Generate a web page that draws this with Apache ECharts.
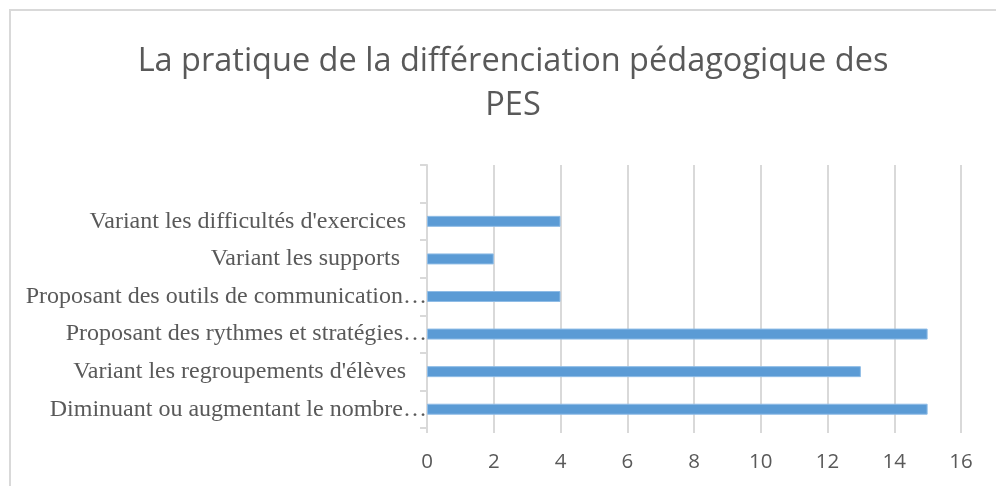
<!DOCTYPE html>
<html>
<head>
<meta charset="utf-8">
<script src="https://cdn.jsdelivr.net/npm/echarts@6/dist/echarts.min.js"></script>
<style>html,body{margin:0;padding:0;background:#fff;}#c{width:996px;height:486px;}</style>
</head>
<body>
<div id="c"></div>
<script>
var titleText = 'La pratique de la différenciation pédagogique des\nPES';
var categories = [
  '',
  "Variant les difficultés d'exercices",
  'Variant les supports ',
  'Proposant des outils de communication…',
  'Proposant des rythmes et stratégies…',
  "Variant les regroupements d'élèves",
  'Diminuant ou augmentant le nombre…'
];
var values = [null, 4, 2, 4, 15, 13, 15];
var xTicks = { min: 0, max: 16, interval: 2 };

var chart = echarts.init(document.getElementById('c'), null, { renderer: 'canvas' });
chart.setOption({
  backgroundColor: '#ffffff',
  animation: false,
  graphic: [{
    type: 'rect',
    shape: { x: 10, y: 10, width: 1000, height: 500 },
    style: { fill: 'none', stroke: '#d9d9d9', lineWidth: 2 },
    silent: true
  }],
  title: {
    text: titleText,
    left: 508,
    top: 35,
    textAlign: 'center',
    textStyle: {
      fontFamily: 'Open Sans',
      fontWeight: 'normal',
      fontSize: 32.5,
      lineHeight: 44,
      color: '#595959'
    }
  },
  grid: { left: 427, right: 35, top: 165, bottom: 58, containLabel: false },
  xAxis: {
    type: 'value',
    min: xTicks.min,
    max: xTicks.max,
    interval: xTicks.interval,
    axisLine: { show: false },
    axisTick: { show: true, length: 5, lineStyle: { color: '#d9d9d9', width: 2 } },
    splitLine: { show: true, lineStyle: { color: '#d9d9d9', width: 2 } },
    axisLabel: {
      color: '#595959',
      fontFamily: 'Open Sans',
      fontSize: 20.5,
      margin: 24
    }
  },
  yAxis: {
    type: 'category',
    data: categories,
    inverse: true,
    axisLine: { show: true, lineStyle: { color: '#d9d9d9', width: 2 } },
    axisTick: { show: true, length: 7, lineStyle: { color: '#d9d9d9', width: 2 } },
    axisLabel: {
      margin: 0,
      formatter: function (v) {
        if (!v) return '';
        return v.slice(-1) === '…' ? '{t|' + v + '}' : '{n|' + v + '}';
      },
      rich: {
        n: { fontFamily: 'Liberation Serif', fontSize: 24, color: '#595959', padding: [0, 21, 0, 0] },
        t: { fontFamily: 'Liberation Serif', fontSize: 24, color: '#595959', padding: [0, 0, 0, 0] }
      }
    }
  },
  series: [{
    type: 'bar',
    data: values,
    barWidth: 11,
    itemStyle: { color: '#5b9bd5', borderColor: '#8fbce6', borderWidth: 1 }
  }]
});
</script>
</body>
</html>
